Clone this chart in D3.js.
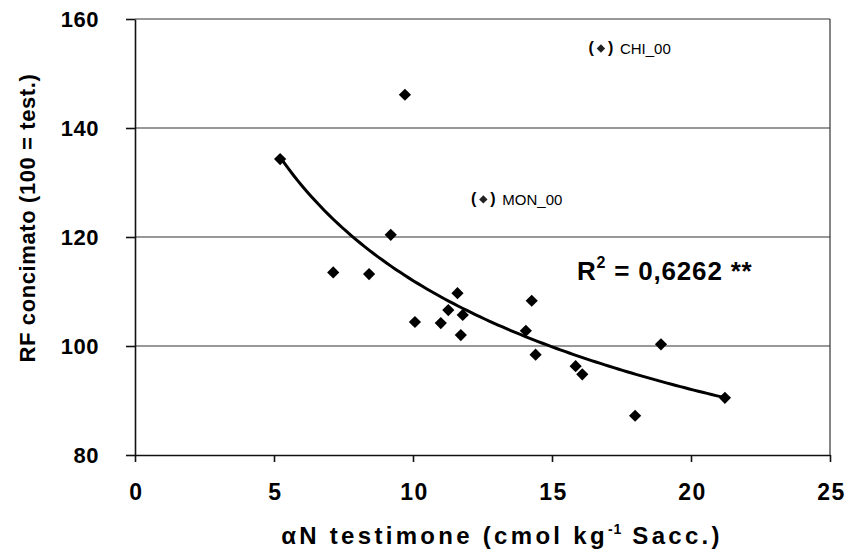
<!DOCTYPE html>
<html lang="en">
<head>
<meta charset="UTF-8">
<title>RF concimato</title>
<style>
    body { margin: 0; background: #fff; }
    svg { display: block; font-family: Arial, "Liberation Sans", sans-serif; }
    .tick text { font-weight: bold; }
</style>
</head>
<body>
<svg id="chart"></svg>
<script src="https://cdn.jsdelivr.net/npm/d3@7"></script>
<script>
    // values
    const xValues = [5.22, 9.71, 9.2, 7.13, 8.42, 10.07, 11.0, 11.27, 11.6, 11.79, 11.72,
                     14.27, 14.06, 14.41, 15.85, 16.09, 17.99, 18.92, 21.22];
    const yValues = [134.3, 146.1, 120.4, 113.5, 113.2, 104.4, 104.2, 106.6, 109.7, 105.7, 102.0,
                     108.3, 102.8, 98.4, 96.3, 94.8, 87.2, 100.3, 90.5];

    // points left out of the fit, shown in brackets
    const outlierX = [16.76, 12.53];
    const outlierY = [154.6, 126.9];
    const outlierLabels = ["CHI_00", "MON_00"];

    const xTicks = [0, 5, 10, 15, 20, 25];
    const yTicks = [80, 100, 120, 140, 160];
    const r2Label = "0,6262 **";

    const width = 849, height = 556;
    const margin = { top: 19, right: 19, bottom: 101, left: 135 };

    const svg = d3.select("#chart").attr("width", width).attr("height", height);

    const x = d3.scaleLinear().domain([0, 25]).range([margin.left, width - margin.right]);
    const y = d3.scaleLinear().domain([80, 160]).range([height - margin.bottom, margin.top]);

    // gridlines
    svg.append("g")
        .selectAll("line")
        .data(yTicks.slice(1))
        .join("line")
        .attr("x1", x(0)).attr("x2", x(25))
        .attr("y1", d => y(d)).attr("y2", d => y(d))
        .attr("stroke", "#333").attr("stroke-width", 1.2);

    // right border
    svg.append("line")
        .attr("x1", x(25)).attr("x2", x(25))
        .attr("y1", y(160)).attr("y2", y(80))
        .attr("stroke", "#333").attr("stroke-width", 1.2);

    const xAxis = svg.append("g")
        .attr("transform", `translate(0,${y(80)})`)
        .call(d3.axisBottom(x).tickValues(xTicks).tickSize(7).tickPadding(22).tickSizeOuter(0));
    xAxis.selectAll("text")
        .attr("font-size", 23).attr("fill", "#000")
        .attr("letter-spacing", 1.5).attr("dx", 1);

    const yAxis = svg.append("g")
        .attr("transform", `translate(${x(0)},0)`)
        .call(d3.axisLeft(y).tickValues(yTicks).tickSize(9).tickPadding(27).tickSizeOuter(0));
    yAxis.selectAll("text")
        .attr("font-size", 22).attr("fill", "#000").attr("dy", "0.36em")
        .attr("letter-spacing", 0.5);

    svg.selectAll(".domain, .tick line").attr("stroke", "#111").attr("stroke-width", 1.6);

    // power trendline fitted in log-log space
    const lx = xValues.map(Math.log), ly = yValues.map(Math.log);
    const mx = d3.mean(lx), my = d3.mean(ly);
    const b = d3.sum(lx, (v, i) => (v - mx) * (ly[i] - my)) / d3.sum(lx, v => (v - mx) ** 2);
    const a = Math.exp(my - b * mx);
    const [xMin, xMax] = d3.extent(xValues);
    const trend = d3.range(0, 101).map(i => {
        const xv = xMin + (xMax - xMin) * i / 100;
        return [xv, a * Math.pow(xv, b)];
    });

    svg.append("path")
        .datum(trend)
        .attr("fill", "none")
        .attr("stroke", "#000")
        .attr("stroke-width", 3)
        .attr("d", d3.line().x(d => x(d[0])).y(d => y(d[1])));

    const diamond = d3.symbol().type(d3.symbolDiamond2).size(95);

    svg.append("g")
        .selectAll("path")
        .data(xValues)
        .join("path")
        .attr("d", diamond)
        .attr("transform", (d, i) => `translate(${x(d)},${y(yValues[i])})`)
        .attr("fill", "#000");

    // bracketed points
    const out = svg.append("g")
        .selectAll("g")
        .data(outlierX)
        .join("g")
        .attr("transform", (d, i) => `translate(${x(d)},${y(outlierY[i])})`);

    out.append("path")
        .attr("d", d3.symbol().type(d3.symbolDiamond2).size(45))
        .attr("fill", "#222");
    out.append("text")
        .attr("x", -7).attr("y", 5)
        .attr("text-anchor", "end")
        .attr("font-size", 16).attr("font-weight", "bold")
        .text("(");
    out.append("text")
        .attr("x", 7).attr("y", 5)
        .attr("font-size", 16).attr("font-weight", "bold")
        .text(")");
    out.append("text")
        .attr("x", 19).attr("y", 6)
        .attr("font-size", 15)
        .text((d, i) => outlierLabels[i]);

    // R squared label
    const r2 = svg.append("text")
        .attr("x", 577).attr("y", 280)
        .attr("font-size", 26).attr("font-weight", "bold")
        .attr("letter-spacing", 0.8);
    r2.append("tspan").text("R");
    r2.append("tspan").attr("font-size", 16).attr("dy", -12).text("2");
    r2.append("tspan").attr("dy", 12).text(" = " + r2Label);

    // axis titles
    const xt = svg.append("text")
        .attr("x", 502).attr("y", 544)
        .attr("text-anchor", "middle")
        .attr("font-size", 24).attr("font-weight", "bold")
        .attr("letter-spacing", 3.3);
    xt.append("tspan").text("\u03b1N testimone (cmol kg");
    xt.append("tspan").attr("font-size", 14).attr("dy", -10).attr("letter-spacing", 1).text("-1");
    xt.append("tspan").attr("dy", 10).text(" Sacc.)");

    svg.append("text")
        .attr("transform", "translate(35,218) rotate(-90)")
        .attr("text-anchor", "middle")
        .attr("font-size", 22).attr("font-weight", "bold")
        .attr("letter-spacing", 0.6)
        .text("RF concimato (100 = test.)");
</script>
</body>
</html>
